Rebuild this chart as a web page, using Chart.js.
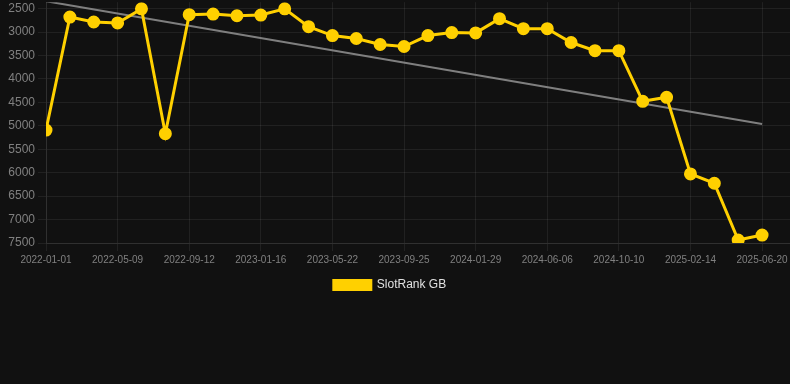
<!DOCTYPE html>
<html>
<head>
<meta charset="utf-8">
<script src="https://cdn.jsdelivr.net/npm/chart.js@4/dist/chart.umd.min.js"></script>
<style>
  html, body { margin: 0; padding: 0; background: #111111; overflow: hidden; }
  #view { width: 790px; height: 384px; position: relative; overflow: hidden; }
  #wrap { width: 798px; height: 392px; position: absolute; left: 0; top: -8px; }
</style>
</head>
<body>
<div id="view"><div id="wrap"><canvas id="c"></canvas></div></div>
<script>
const dates = [
  "2022-01-01","2022-02-12","2022-03-26","2022-05-09","2022-06-20","2022-08-01",
  "2022-09-12","2022-10-24","2022-12-05","2023-01-16","2023-02-27","2023-04-10",
  "2023-05-22","2023-07-03","2023-08-14","2023-09-25","2023-11-06","2023-12-18",
  "2024-01-29","2024-03-11","2024-04-24","2024-06-06","2024-07-18","2024-08-29",
  "2024-10-10","2024-11-21","2025-01-03","2025-02-14","2025-03-28","2025-05-09",
  "2025-06-20"
];
const slotRankGB = [
  5090, 2680, 2785, 2805, 2505, 5168, 2630, 2616, 2652, 2637, 2505,
  2885, 3075, 3138, 3265, 3308, 3075, 3012, 3018, 2715, 2927,
  2927, 3223, 3398, 3398, 4477, 4392, 6027, 6225, 7437, 7331
];
const trendStartEnd = [2342, 4963];
const yTicks = [2500, 3000, 3500, 4000, 4500, 5000, 5500, 6000, 6500, 7000, 7500];
const shownTickIndexes = [0, 3, 6, 9, 12, 15, 18, 21, 24, 27, 30];

const yellow = "#FFD000";
const gridColor = "rgba(255,255,255,0.07)";
const tickColor = "#808080";
const fontFamily = "'Liberation Sans', Arial, sans-serif";

const legendShift = {
  id: "legendShift",
  afterLayout(chart) {
    if (chart.legend) { chart.legend.left -= 9; chart.legend.right -= 9; }
  }
};

new Chart(document.getElementById("c"), {
  type: "line",
  data: {
    datasets: [
      {
        label: "SlotRank GB",
        data: slotRankGB.map((v, i) => ({ x: i, y: v })),
        borderColor: yellow,
        backgroundColor: yellow,
        pointBackgroundColor: yellow,
        pointBorderColor: yellow,
        borderWidth: 3,
        pointRadius: 5,
        tension: 0,
        order: 1
      },
      {
        label: "trend",
        data: [{ x: 0, y: trendStartEnd[0] }, { x: dates.length - 1, y: trendStartEnd[1] }],
        borderColor: "rgba(140,140,140,0.9)",
        backgroundColor: "rgba(140,140,140,0.9)",
        borderWidth: 2,
        pointRadius: 0,
        tension: 0,
        order: 2
      }
    ]
  },
  plugins: [legendShift],
  options: {
    responsive: true,
    maintainAspectRatio: false,
    animation: false,
    layout: { padding: { left: 0, right: 0, top: 0, bottom: 83 } },
    font: { family: fontFamily },
    scales: {
      x: {
        type: "linear",
        min: 0,
        max: 31.17,
        grid: { color: gridColor, tickLength: 8 },
        border: { color: gridColor },
        afterBuildTicks: (axis) => { axis.ticks = shownTickIndexes.map(v => ({ value: v })); },
        ticks: {
          autoSkip: false,
          maxRotation: 0,
          color: tickColor,
          font: { size: 10, family: fontFamily },
          callback: (v) => dates[v] ?? ""
        }
      },
      y: {
        reverse: true,
        min: 2363,
        max: 7500,
        grid: { color: gridColor, tickLength: 8 },
        border: { color: gridColor },
        afterBuildTicks: (axis) => { axis.ticks = yTicks.map(v => ({ value: v })); },
        afterFit: (axis) => { axis.width = 46; },
        ticks: {
          color: tickColor,
          padding: 3,
          font: { size: 12, family: fontFamily },
          callback: (v) => String(v)
        }
      }
    },
    plugins: {
      legend: {
        position: "bottom",
        labels: {
          color: "#e0e0e0",
          boxWidth: 37,
          boxHeight: 9,
          font: { size: 12, family: fontFamily },
          filter: (item) => item.text !== "trend"
        }
      },
      tooltip: { enabled: false }
    }
  }
});
</script>
</body>
</html>
